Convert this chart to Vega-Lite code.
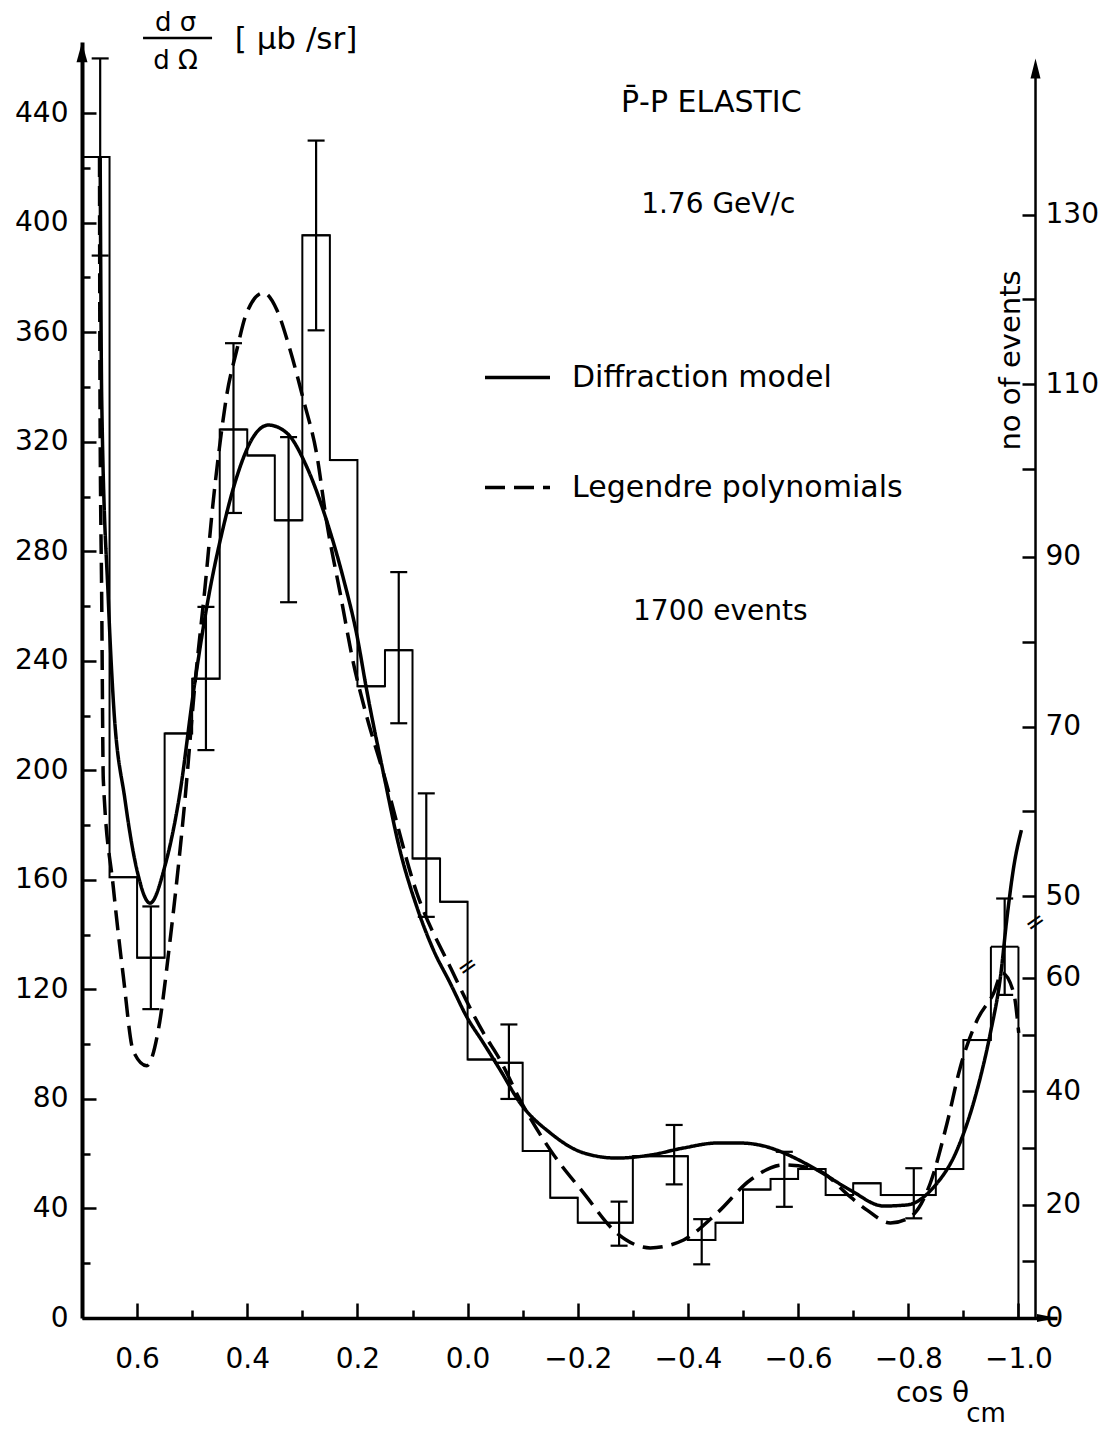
{
"$schema": "https://vega.github.io/schema/vega-lite/v6.json",
"width": 975, "height": 1276,
"autosize": {"type": "none"},
"padding": {"left": 82, "top": 42, "right": 50, "bottom": 111},
"background": "white",
"config": {
  "view": {"stroke": null},
  "axis": {"grid": false, "labelFont": "DejaVu Sans", "labelFontSize": 28, "labelColor": "black", "tickColor": "black", "domainColor": "black", "titleFont": "DejaVu Sans", "titleColor": "black", "titleFontWeight": "normal", "tickWidth": 2.5},
  "text": {"font": "DejaVu Sans", "color": "black"}
},
"resolve": {"axis": {"x": "independent", "y": "independent"}},
"datasets": {
  "hist": [
    {"start":0.70,"end":0.65,"v":424},
    {"start":0.65,"end":0.60,"v":161},
    {"start":0.60,"end":0.55,"v":131.6},
    {"start":0.55,"end":0.50,"v":213.5},
    {"start":0.50,"end":0.45,"v":233.5},
    {"start":0.45,"end":0.40,"v":324.5},
    {"start":0.40,"end":0.35,"v":315},
    {"start":0.35,"end":0.30,"v":291.3},
    {"start":0.30,"end":0.25,"v":395.4},
    {"start":0.25,"end":0.20,"v":313.3},
    {"start":0.20,"end":0.15,"v":230.7},
    {"start":0.15,"end":0.10,"v":243.9},
    {"start":0.10,"end":0.05,"v":167.8},
    {"start":0.05,"end":0.00,"v":152},
    {"start":0.00,"end":-0.05,"v":94.4},
    {"start":-0.05,"end":-0.10,"v":93.2},
    {"start":-0.10,"end":-0.15,"v":61},
    {"start":-0.15,"end":-0.20,"v":43.9},
    {"start":-0.20,"end":-0.25,"v":34.8},
    {"start":-0.25,"end":-0.30,"v":34.8},
    {"start":-0.30,"end":-0.35,"v":59.1},
    {"start":-0.35,"end":-0.40,"v":59.1},
    {"start":-0.40,"end":-0.45,"v":28.5},
    {"start":-0.45,"end":-0.50,"v":34.8},
    {"start":-0.50,"end":-0.55,"v":46.9},
    {"start":-0.55,"end":-0.60,"v":50.8},
    {"start":-0.60,"end":-0.65,"v":54.4},
    {"start":-0.65,"end":-0.70,"v":44.9},
    {"start":-0.70,"end":-0.75,"v":49.2},
    {"start":-0.75,"end":-0.80,"v":44.9},
    {"start":-0.80,"end":-0.85,"v":44.9},
    {"start":-0.85,"end":-0.90,"v":54.4},
    {"start":-0.90,"end":-0.95,"v":101.5},
    {"start":-0.95,"end":-1.00,"v":135.6}
  ],
  "err": [
    {"c":0.667,"lo":388,"hi":460},
    {"c":0.575,"lo":112.8,"hi":150.3},
    {"c":0.475,"lo":207.4,"hi":259.7},
    {"c":0.425,"lo":294,"hi":356},
    {"c":0.325,"lo":261.4,"hi":321.7},
    {"c":0.275,"lo":360.7,"hi":430},
    {"c":0.125,"lo":217.2,"hi":272.4},
    {"c":0.075,"lo":146.5,"hi":191.6},
    {"c":-0.075,"lo":80,"hi":107.2},
    {"c":-0.275,"lo":26.4,"hi":42.5},
    {"c":-0.375,"lo":48.8,"hi":70.5},
    {"c":-0.425,"lo":19.6,"hi":36.1},
    {"c":-0.575,"lo":40.6,"hi":60.7},
    {"c":-0.81,"lo":36.4,"hi":54.7},
    {"c":-0.975,"lo":118,"hi":153.2}
  ],
  "curves": [
    {"model":"Diffraction model","c":0.667,"v":424},
    {"model":"Diffraction model","c":0.6642,"v":335.3},
    {"model":"Diffraction model","c":0.6522,"v":262.2},
    {"model":"Diffraction model","c":0.6432,"v":225.7},
    {"model":"Diffraction model","c":0.6219,"v":189.2},
    {"model":"Diffraction model","c":0.6007,"v":164},
    {"model":"Diffraction model","c":0.5765,"v":151.5},
    {"model":"Diffraction model","c":0.5493,"v":165.2},
    {"model":"Diffraction model","c":0.522,"v":192},
    {"model":"Diffraction model","c":0.4979,"v":228.3},
    {"model":"Diffraction model","c":0.4735,"v":259.7},
    {"model":"Diffraction model","c":0.4434,"v":288.9},
    {"model":"Diffraction model","c":0.419,"v":307.2},
    {"model":"Diffraction model","c":0.3889,"v":321.8},
    {"model":"Diffraction model","c":0.3616,"v":326.1},
    {"model":"Diffraction model","c":0.3282,"v":323.2},
    {"model":"Diffraction model","c":0.2919,"v":310.8},
    {"model":"Diffraction model","c":0.2556,"v":291},
    {"model":"Diffraction model","c":0.2254,"v":270},
    {"model":"Diffraction model","c":0.2011,"v":249.5},
    {"model":"Diffraction model","c":0.1829,"v":229},
    {"model":"Diffraction model","c":0.1528,"v":199},
    {"model":"Diffraction model","c":0.1224,"v":170.5},
    {"model":"Diffraction model","c":0.0921,"v":150.1},
    {"model":"Diffraction model","c":0.062,"v":134.4},
    {"model":"Diffraction model","c":0.0316,"v":122.3},
    {"model":"Diffraction model","c":0.0013,"v":109.9},
    {"model":"Diffraction model","c":-0.0288,"v":100.4},
    {"model":"Diffraction model","c":-0.0591,"v":90.6},
    {"model":"Diffraction model","c":-0.0954,"v":78.5},
    {"model":"Diffraction model","c":-0.15,"v":67.6},
    {"model":"Diffraction model","c":-0.2105,"v":60.3},
    {"model":"Diffraction model","c":-0.2711,"v":58.4},
    {"model":"Diffraction model","c":-0.3316,"v":59.5},
    {"model":"Diffraction model","c":-0.3921,"v":62.1},
    {"model":"Diffraction model","c":-0.4528,"v":63.9},
    {"model":"Diffraction model","c":-0.4951,"v":63.9},
    {"model":"Diffraction model","c":-0.5436,"v":62.5},
    {"model":"Diffraction model","c":-0.5737,"v":60.3},
    {"model":"Diffraction model","c":-0.6344,"v":54.1},
    {"model":"Diffraction model","c":-0.6949,"v":46.7},
    {"model":"Diffraction model","c":-0.7553,"v":40.9},
    {"model":"Diffraction model","c":-0.7978,"v":41.3},
    {"model":"Diffraction model","c":-0.8461,"v":47.8},
    {"model":"Diffraction model","c":-0.8886,"v":61.4},
    {"model":"Diffraction model","c":-0.925,"v":83.3},
    {"model":"Diffraction model","c":-0.9491,"v":104.1},
    {"model":"Diffraction model","c":-0.9673,"v":124.5},
    {"model":"Diffraction model","c":-0.9794,"v":146.5},
    {"model":"Diffraction model","c":-0.9914,"v":164.7},
    {"model":"Diffraction model","c":-1.0054,"v":178.2},
    {"model":"Legendre polynomials","c":0.6682,"v":424},
    {"model":"Legendre polynomials","c":0.6673,"v":335.3},
    {"model":"Legendre polynomials","c":0.6642,"v":262.2},
    {"model":"Legendre polynomials","c":0.6613,"v":196.5},
    {"model":"Legendre polynomials","c":0.6432,"v":157.4},
    {"model":"Legendre polynomials","c":0.625,"v":124.8},
    {"model":"Legendre polynomials","c":0.6068,"v":97.4},
    {"model":"Legendre polynomials","c":0.5825,"v":92.1},
    {"model":"Legendre polynomials","c":0.5614,"v":105.2},
    {"model":"Legendre polynomials","c":0.5402,"v":137.8},
    {"model":"Legendre polynomials","c":0.513,"v":189.5},
    {"model":"Legendre polynomials","c":0.4948,"v":231.9},
    {"model":"Legendre polynomials","c":0.4766,"v":267},
    {"model":"Legendre polynomials","c":0.4615,"v":298.8},
    {"model":"Legendre polynomials","c":0.4494,"v":319.6},
    {"model":"Legendre polynomials","c":0.4372,"v":337.1},
    {"model":"Legendre polynomials","c":0.419,"v":353.5},
    {"model":"Legendre polynomials","c":0.4012,"v":367},
    {"model":"Legendre polynomials","c":0.3707,"v":374.4},
    {"model":"Legendre polynomials","c":0.3464,"v":368.2},
    {"model":"Legendre polynomials","c":0.3222,"v":353.5},
    {"model":"Legendre polynomials","c":0.298,"v":335.3},
    {"model":"Legendre polynomials","c":0.2737,"v":315.2},
    {"model":"Legendre polynomials","c":0.2556,"v":290.4},
    {"model":"Legendre polynomials","c":0.2314,"v":264.8},
    {"model":"Legendre polynomials","c":0.2073,"v":239.2},
    {"model":"Legendre polynomials","c":0.1829,"v":219.5},
    {"model":"Legendre polynomials","c":0.1528,"v":199},
    {"model":"Legendre polynomials","c":0.0921,"v":155.2},
    {"model":"Legendre polynomials","c":0.0316,"v":128.2},
    {"model":"Legendre polynomials","c":-0.0288,"v":104.1},
    {"model":"Legendre polynomials","c":-0.0591,"v":94.2},
    {"model":"Legendre polynomials","c":-0.0954,"v":79.6},
    {"model":"Legendre polynomials","c":-0.15,"v":61.4},
    {"model":"Legendre polynomials","c":-0.2105,"v":45.7},
    {"model":"Legendre polynomials","c":-0.2711,"v":31},
    {"model":"Legendre polynomials","c":-0.3316,"v":25.6},
    {"model":"Legendre polynomials","c":-0.3921,"v":28.5},
    {"model":"Legendre polynomials","c":-0.4528,"v":38.3},
    {"model":"Legendre polynomials","c":-0.5133,"v":50.4},
    {"model":"Legendre polynomials","c":-0.5737,"v":55.9},
    {"model":"Legendre polynomials","c":-0.6344,"v":54.1},
    {"model":"Legendre polynomials","c":-0.6949,"v":44.2},
    {"model":"Legendre polynomials","c":-0.7252,"v":39.4},
    {"model":"Legendre polynomials","c":-0.7675,"v":34.7},
    {"model":"Legendre polynomials","c":-0.8038,"v":36.9},
    {"model":"Legendre polynomials","c":-0.8401,"v":49.3},
    {"model":"Legendre polynomials","c":-0.8705,"v":71.2},
    {"model":"Legendre polynomials","c":-0.8946,"v":91.7},
    {"model":"Legendre polynomials","c":-0.925,"v":108.8},
    {"model":"Legendre polynomials","c":-0.9551,"v":118.7},
    {"model":"Legendre polynomials","c":-0.9704,"v":126},
    {"model":"Legendre polynomials","c":-0.9914,"v":118.7},
    {"model":"Legendre polynomials","c":-1.0005,"v":104.1}
  ]
},
"layer": [
  {
    "data": {"name": "hist"},
    "mark": {"type": "line", "interpolate": "step-after", "color": "black", "strokeWidth": 2},
    "encoding": {
      "x": {"field": "start", "type": "quantitative", "scale": {"domain": [-1.07, 0.7], "reverse": true, "nice": false, "zero": false},
        "axis": {"orient": "bottom", "values": [0.6, 0.4, 0.2, 0, -0.2, -0.4, -0.6, -0.8, -1], "format": ".1f", "tickSize": -15, "domainWidth": 3.5, "labelPadding": 42, "labelFlush": false, "labelOverlap": false, "labelBaseline": "top",
          "title": "cos θ", "titleFontSize": 28, "titleX": 850, "titleY": 75, "titleAlign": "center", "titleBaseline": "middle"}},
      "y": {"field": "v", "type": "quantitative", "scale": {"domain": [0, 466], "nice": false, "zero": false},
        "axis": {"orient": "left", "values": [0, 40, 80, 120, 160, 200, 240, 280, 320, 360, 400, 440], "tickSize": -14, "domainWidth": 4, "labelPadding": 28, "labelOverlap": false, "labelFlush": false,
          "title": ["d σ", "d Ω"], "titleAngle": 0, "titleFontSize": 26, "titleX": 93, "titleY": -33, "titleAlign": "center", "titleBaseline": "top", "titleLineHeight": 38}},
      "order": {"field": "start", "sort": "descending"}
    }
  },
  {
    "data": {"name": "hist"},
    "mark": {"type": "rule", "color": "black", "strokeWidth": 2},
    "encoding": {
      "x": {"field": "start", "type": "quantitative", "scale": {"domain": [-1.07, 0.7], "reverse": true, "nice": false, "zero": false},
        "axis": {"orient": "bottom", "values": [0.5, 0.3, 0.1, -0.1, -0.3, -0.5, -0.7, -0.9], "tickSize": -8, "domain": false, "labels": false, "title": null}},
      "x2": {"field": "end"},
      "y": {"field": "v", "type": "quantitative", "scale": {"domain": [0, 466], "nice": false, "zero": false},
        "axis": {"orient": "left", "values": [20, 60, 100, 140, 180, 220, 260, 300, 340, 380, 420], "tickSize": -8, "domain": false, "labels": false, "title": null}}
    }
  },
  {
    "data": {"name": "hist"},
    "transform": [{"filter": "datum.end <= -0.99"}],
    "mark": {"type": "rule", "color": "black", "strokeWidth": 2},
    "encoding": {
      "x": {"field": "end", "type": "quantitative", "scale": {"domain": [-1.07, 0.7], "reverse": true, "nice": false, "zero": false}, "axis": null},
      "y": {"field": "v", "type": "quantitative", "scale": {"domain": [0, 466], "nice": false, "zero": false}, "axis": null},
      "y2": {"datum": 0}
    }
  },
  {
    "data": {"name": "err"},
    "mark": {"type": "errorbar", "ticks": {"size": 17, "thickness": 2.2, "color": "black", "opacity": 1}, "rule": {"strokeWidth": 2.2, "color": "black", "opacity": 1}},
    "encoding": {
      "x": {"field": "c", "type": "quantitative", "scale": {"domain": [-1.07, 0.7], "reverse": true, "nice": false, "zero": false}, "axis": null},
      "y": {"field": "lo", "type": "quantitative", "scale": {"domain": [0, 466], "nice": false, "zero": false}, "axis": null},
      "y2": {"field": "hi"}
    }
  },
  {
    "data": {"name": "curves"},
    "mark": {"type": "line", "color": "black", "strokeWidth": 3.5, "interpolate": "monotone"},
    "encoding": {
      "x": {"field": "c", "type": "quantitative", "scale": {"domain": [-1.07, 0.7], "reverse": true, "nice": false, "zero": false}, "axis": null},
      "y": {"field": "v", "type": "quantitative", "scale": {"domain": [0, 466], "nice": false, "zero": false},
        "axis": {"orient": "right", "offset": -22, "values": [0, 20.7, 41.4, 62.1, 82.8, 103.5, 124.2, 154, 185, 216, 247, 278, 310, 341, 372, 403],
          "labelExpr": "datum.value == 0 ? '0' : datum.value == 41.4 ? '20' : datum.value == 82.8 ? '40' : datum.value == 124.2 ? '60' : datum.value == 154 ? '50' : datum.value == 216 ? '70' : datum.value == 278 ? '90' : datum.value == 341 ? '110' : datum.value == 403 ? '130' : ''",
          "tickSize": -13, "domain": false, "labelPadding": 23, "labelOverlap": false, "labelFlush": false, "labelAlign": "left",
          "title": "no of events", "titleAngle": 270, "titleFontSize": 29, "titleX": -25, "titleY": 318, "titleAlign": "center", "titleBaseline": "middle"}},
      "order": {"field": "c", "sort": "descending"},
      "strokeDash": {"field": "model", "type": "nominal",
        "scale": {"domain": ["Diffraction model", "Legendre polynomials"], "range": [[1, 0], [20, 9]]},
        "legend": {"orient": "none", "legendX": 401, "legendY": 301, "title": null, "symbolType": "stroke", "symbolSize": 4225, "symbolStrokeWidth": 3.5, "symbolStrokeColor": "black", "labelFont": "DejaVu Sans", "labelFontSize": 30, "labelColor": "black", "labelOffset": 20, "rowPadding": 60, "padding": 0, "labelLimit": 600}}
    }
  },
  {
    "data": {"values": [{}]},
    "mark": {"type": "rule", "color": "black", "strokeWidth": 2.5},
    "encoding": {
      "x": {"datum": -1.031, "type": "quantitative", "axis": null},
      "y": {"datum": 0, "type": "quantitative", "axis": null},
      "y2": {"datum": 456}
    }
  },
  {
    "data": {"values": [{}]},
    "mark": {"type": "rule", "color": "black", "strokeWidth": 2.5},
    "encoding": {
      "x": {"datum": 0.5892, "type": "quantitative", "axis": null},
      "x2": {"datum": 0.4639},
      "y": {"datum": 467.5, "type": "quantitative", "axis": null}
    }
  },
  {
    "data": {"values": [{}]},
    "mark": {"type": "point", "shape": "M0,-1L0.55,1L-0.55,1Z", "filled": true, "color": "black", "opacity": 1, "size": 400, "strokeWidth": 0},
    "encoding": {
      "x": {"datum": 0.7, "type": "quantitative", "axis": null},
      "y": {"datum": 462.3, "type": "quantitative", "axis": null}
    }
  },
  {
    "data": {"values": [{}]},
    "mark": {"type": "point", "shape": "M0,-1L0.5,1L-0.5,1Z", "filled": true, "color": "black", "opacity": 1, "size": 400, "strokeWidth": 0},
    "encoding": {
      "x": {"datum": -1.031, "type": "quantitative", "axis": null},
      "y": {"datum": 456.3, "type": "quantitative", "axis": null}
    }
  },
  {
    "data": {"values": [{}]},
    "mark": {"type": "point", "shape": "M1,0L-1,-0.4L-1,0.4Z", "filled": true, "color": "black", "opacity": 1, "size": 400, "strokeWidth": 0},
    "encoding": {
      "x": {"datum": -1.0518, "type": "quantitative", "axis": null},
      "y": {"datum": 0, "type": "quantitative", "axis": null}
    }
  },
  {
    "data": {"values": [{}]},
    "mark": {"type": "text", "fontSize": 30, "align": "center", "baseline": "middle"},
    "encoding": {"x": {"datum": -0.4424, "type": "quantitative", "axis": null}, "y": {"datum": 443.7, "type": "quantitative", "axis": null}, "text": {"value": "P̄-P  ELASTIC"}}
  },
  {
    "data": {"values": [{}]},
    "mark": {"type": "text", "fontSize": 28, "align": "center", "baseline": "middle"},
    "encoding": {"x": {"datum": -0.455, "type": "quantitative", "axis": null}, "y": {"datum": 406.5, "type": "quantitative", "axis": null}, "text": {"value": "1.76  GeV/c"}}
  },
  {
    "data": {"values": [{}]},
    "mark": {"type": "text", "fontSize": 28, "align": "center", "baseline": "middle"},
    "encoding": {"x": {"datum": -0.4587, "type": "quantitative", "axis": null}, "y": {"datum": 257.9, "type": "quantitative", "axis": null}, "text": {"value": "1700  events"}}
  },
  {
    "data": {"values": [{}]},
    "mark": {"type": "text", "fontSize": 31, "align": "center", "baseline": "middle"},
    "encoding": {"x": {"datum": 0.3115, "type": "quantitative", "axis": null}, "y": {"datum": 466.8, "type": "quantitative", "axis": null}, "text": {"value": "[ μb /sr]"}}
  },
  {
    "data": {"values": [{}]},
    "mark": {"type": "text", "fontSize": 26, "align": "center", "baseline": "middle"},
    "encoding": {"x": {"datum": -0.9413, "type": "quantitative", "axis": null}, "y": {"datum": -35.1, "type": "quantitative", "axis": null}, "text": {"value": "cm"}}
  },
  {
    "data": {"values": [{}]},
    "mark": {"type": "text", "fontSize": 24, "align": "center", "baseline": "middle", "angle": -35},
    "encoding": {"x": {"datum": 0.0, "type": "quantitative", "axis": null}, "y": {"datum": 128.2, "type": "quantitative", "axis": null}, "text": {"value": "="}}
  },
  {
    "data": {"values": [{}]},
    "mark": {"type": "text", "fontSize": 24, "align": "center", "baseline": "middle", "angle": -35},
    "encoding": {"x": {"datum": -1.031, "type": "quantitative", "axis": null}, "y": {"datum": 144.3, "type": "quantitative", "axis": null}, "text": {"value": "="}}
  }
]
}
